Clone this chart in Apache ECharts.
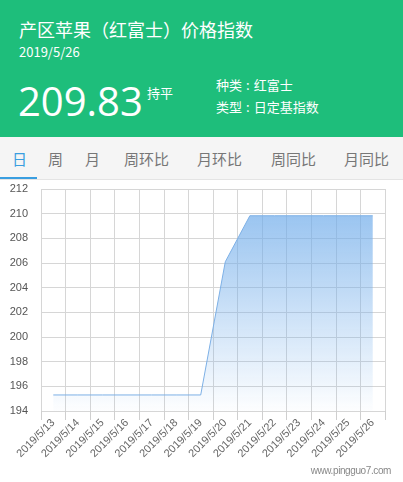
<!DOCTYPE html>
<html>
<head>
<meta charset="utf-8">
<script src="https://cdn.jsdelivr.net/npm/echarts@6/dist/echarts.min.js"></script>
<style>
    body { margin: 0; width: 403px; height: 482px; overflow: hidden; background: #fff;
        font-family: "Noto Sans CJK SC", "Noto Sans", sans-serif; }
    .head { position: absolute; left: 0; top: 0; width: 403px; height: 137px; background: #1ebe7b; color: #fff; }
    .title { position: absolute; left: 19px; top: 17px; font-size: 18px; line-height: 24px; }
    .date { position: absolute; left: 19px; top: 44px; font-size: 13px; line-height: 16px; }
    .price { position: absolute; left: 18px; top: 79px; font-size: 40px; line-height: 44px; font-family: "Open Sans", "Noto Sans", sans-serif; }
    .flat { position: absolute; left: 147px; top: 85px; font-size: 13px; line-height: 16px; }
    .info { position: absolute; left: 216px; font-size: 13px; line-height: 16px; }
    .info span { margin: 0 4px; }
    .tabs { position: absolute; left: 0; top: 137px; width: 403px; height: 42px; background: #f5f5f5; border-bottom: 1px solid #e4e4e4; }
    .tab { position: absolute; top: 12px; font-size: 15px; line-height: 20px; color: #777; }
    .tab.on { color: #3a9ee0; }
    .bar { position: absolute; left: 0; top: 40px; width: 37px; height: 2px; background: #3a9ee0; }
    #main { position: absolute; left: 0; top: 180px; width: 403px; height: 302px; }
    .mark { position: absolute; right: 12px; top: 465px; font-size: 10px; letter-spacing: -0.4px; color: #888; font-family: "Liberation Sans", sans-serif; }
</style>
</head>
<body>
<div class="head">
    <div class="title">产区苹果（红富士）价格指数</div>
    <div class="date">2019/5/26</div>
    <div class="price">209.83</div>
    <div class="flat">持平</div>
    <div class="info" style="top:77px">种类<span>:</span>红富士</div>
    <div class="info" style="top:99px">类型<span>:</span>日定基指数</div>
</div>
<div class="tabs">
    <div class="tab on" style="left:12px">日</div>
    <div class="tab" style="left:48px">周</div>
    <div class="tab" style="left:85px">月</div>
    <div class="tab" style="left:124px">周环比</div>
    <div class="tab" style="left:197px">月环比</div>
    <div class="tab" style="left:271px">周同比</div>
    <div class="tab" style="left:344px">月同比</div>
    <div class="bar"></div>
</div>
<div id="main"></div>
<div class="mark">www.pingguo7.com</div>
<script>
var dates = ['2019/5/13', '2019/5/14', '2019/5/15', '2019/5/16', '2019/5/17', '2019/5/18', '2019/5/19',
    '2019/5/20', '2019/5/21', '2019/5/22', '2019/5/23', '2019/5/24', '2019/5/25', '2019/5/26'];
var prices = [195.3, 195.3, 195.3, 195.3, 195.3, 195.3, 195.3,
    206.1, 209.83, 209.83, 209.83, 209.83, 209.83, 209.83];

var myChart = echarts.init(document.getElementById('main'));

// 指定图表的配置项和数据
var option = {
    animation: false,
    grid: { left: 41, right: 18, top: 9, bottom: 71 },
    xAxis: {
        type: 'category',
        data: dates,
        boundaryGap: true,
        axisLine: { show: false },
        axisTick: { show: true, length: 9, lineStyle: { color: '#cfcfcf' } },
        splitLine: { show: true, lineStyle: { color: '#d6d6d6' } },
        axisLabel: { rotate: 45, interval: 0, fontSize: 11, color: '#666', margin: 10 }
    },
    yAxis: {
        type: 'value',
        min: 194,
        max: 212,
        interval: 2,
        axisLine: { show: false },
        axisTick: { show: false },
        splitLine: { lineStyle: { color: '#d6d6d6' } },
        axisLabel: { fontSize: 11, color: '#555', margin: 13 }
    },
    series: [{
        type: 'line',
        data: prices,
        symbol: 'none',
        lineStyle: { color: '#7db0e6', width: 1 },
        areaStyle: {
            color: new echarts.graphic.LinearGradient(0, 0, 0, 1, [
                { offset: 0, color: 'rgba(112,172,234,1)' },
                { offset: 1, color: 'rgba(112,172,234,0.02)' }
            ])
        }
    }]
};
myChart.setOption(option);
</script>
</body>
</html>
